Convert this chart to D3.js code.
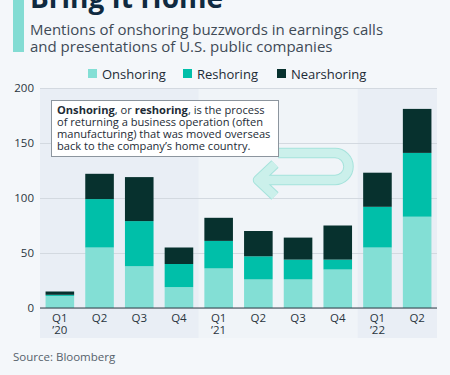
<!DOCTYPE html>
<html>
<head>
<meta charset="utf-8">
<script src="https://cdn.jsdelivr.net/npm/d3@7"></script>
<style>
  body { margin: 0; background: #f4f7fa; }
  svg { display: block; font-family: "Open Sans", sans-serif; }
</style>
</head>
<body>
<div id="chart"></div>
<script>
var width = 450, height = 375;
var padding = { t: 88, r: 13, b: 67, l: 40 };

// data
var quarters = ["Q1 '20", "Q2 '20", "Q3 '20", "Q4 '20", "Q1 '21", "Q2 '21", "Q3 '21", "Q4 '21", "Q1 '22", "Q2 '22"];
var tickLines = [["Q1", "\u201920"], ["Q2"], ["Q3"], ["Q4"], ["Q1", "\u201921"], ["Q2"], ["Q3"], ["Q4"], ["Q1", "\u201922"], ["Q2"]];
var onshoring = [11, 55, 38, 19, 36, 26, 26, 35, 55, 83];
var reshoring = [1, 44, 41, 21, 25, 21, 18, 9, 37, 58];
var nearshoring = [3, 23, 40, 15, 21, 23, 20, 31, 31, 40];
var seriesNames = ["Onshoring", "Reshoring", "Nearshoring"];
var colors = ["#83dfd5", "#00bfa9", "#07312e"];
var years = [{ from: 0, to: 3, fill: "#e9eef5" }, { from: 4, to: 7, fill: "#f0f4f8" }, { from: 8, to: 9, fill: "#e9eef5" }];
var yTicks = [0, 50, 100, 150, 200];

var svg = d3.select("#chart").append("svg")
    .attr("width", width)
    .attr("height", height);

svg.append("rect").attr("width", width).attr("height", height).attr("fill", "#f4f7fa");

//Header
svg.append("rect").attr("x", 13).attr("y", 0).attr("width", 11).attr("height", 52).attr("fill", "#83dcd3");
svg.append("text").attr("x", 30).attr("y", 8)
    .style("font-size", "28px").style("font-weight", "bold").attr("fill", "#0f2a40")
    .text("Bring It Home");
svg.append("text").attr("x", 30).attr("y", 35)
    .style("font-size", "15px").attr("fill", "#3e4a56")
    .text("Mentions of onshoring buzzwords in earnings calls");
svg.append("text").attr("x", 30).attr("y", 52)
    .style("font-size", "15px").attr("fill", "#3e4a56")
    .text("and presentations of U.S. public companies");

//Legend
var legendX = [88, 183, 277];
seriesNames.forEach(function (name, i) {
    svg.append("rect").attr("x", legendX[i]).attr("y", 69).attr("width", 9).attr("height", 9).attr("fill", colors[i]);
    svg.append("text").attr("x", legendX[i] + 14).attr("y", 79)
        .style("font-size", "13px").attr("fill", "#1d2b36").text(name);
});

var chartWidth = width - padding.l - padding.r;
var chartHeight = height - padding.t - padding.b;

var x = d3.scaleBand().domain(quarters).range([padding.l, padding.l + chartWidth])
    .paddingInner(0.28).paddingOuter(0.14);
var y = d3.scaleLinear().domain([0, 200]).range([padding.t + chartHeight, padding.t]);

//Year bands
years.forEach(function (yr) {
    var x0 = x(quarters[yr.from]) - x.step() * x.paddingInner() / 2;
    var x1 = x(quarters[yr.to]) + x.bandwidth() + x.step() * x.paddingInner() / 2;
    x0 = Math.max(x0, padding.l); x1 = Math.min(x1, padding.l + chartWidth);
    svg.append("rect").attr("x", x0).attr("y", y(200)).attr("width", x1 - x0)
        .attr("height", y(0) - y(200) + 30).attr("fill", yr.fill);
});

//Grid + y axis
var yAxis = svg.append("g").attr("transform", "translate(" + padding.l + ",0)")
    .call(d3.axisLeft(y).tickValues(yTicks).tickSize(-chartWidth).tickPadding(6));
yAxis.select(".domain").remove();
yAxis.selectAll("line").attr("stroke", "#d3d9e0");
yAxis.selectAll("text").style("font-size", "11.5px").attr("fill", "#2a3540").style("font-family", "Open Sans");

//Stacked bars
var rows = quarters.map(function (q, i) {
    return { q: q, Onshoring: onshoring[i], Reshoring: reshoring[i], Nearshoring: nearshoring[i] };
});
var stack = d3.stack().keys(seriesNames)(rows);
svg.append("g").selectAll("g").data(stack).enter().append("g")
    .attr("fill", function (d, i) { return colors[i]; })
    .selectAll("rect").data(function (d) { return d; }).enter().append("rect")
    .attr("x", function (d) { return x(d.data.q); })
    .attr("width", x.bandwidth())
    .attr("y", function (d) { return y(d[1]); })
    .attr("height", function (d) { return y(d[0]) - y(d[1]); });

//x axis
svg.append("line").attr("x1", padding.l).attr("x2", padding.l + chartWidth)
    .attr("y1", y(0)).attr("y2", y(0)).attr("stroke", "#33404a").attr("stroke-width", 1.2);
quarters.forEach(function (q, i) {
    tickLines[i].forEach(function (t, j) {
        svg.append("text").attr("x", x(q) + x.bandwidth() / 2).attr("y", y(0) + 14 + j * 11.5)
            .attr("text-anchor", "middle").style("font-size", "11.5px").attr("fill", "#2a3540").text(t);
    });
});

//Arrow (U-turn)
var arrow = "M278,153 L335,153 A13.5,13.5 0 0 1 335,180 L262,180 M275,164 L258,180 L275,196";
svg.append("path").attr("d", arrow).attr("fill", "none").attr("stroke", "#a6e3dc")
    .attr("stroke-width", 10.5).attr("stroke-linejoin", "round");
svg.append("path").attr("d", arrow).attr("fill", "none").attr("stroke", "#cbf0eb")
    .attr("stroke-width", 8.5).attr("stroke-linejoin", "round");

//Annotation box
svg.append("rect").attr("x", 51.5).attr("y", 100.5).attr("width", 227).attr("height", 56)
    .attr("fill", "#ffffff").attr("stroke", "#8c959e");
var note = svg.append("text").style("font-size", "11.1px").attr("fill", "#1d2b36");
var l1 = note.append("tspan").attr("x", 57).attr("y", 114);
l1.append("tspan").style("font-weight", "bold").text("Onshoring");
l1.append("tspan").text(", or ");
l1.append("tspan").style("font-weight", "bold").text("reshoring");
l1.append("tspan").text(", is the process");
note.append("tspan").attr("x", 57).attr("y", 126).text("of returning a business operation (often");
note.append("tspan").attr("x", 57).attr("y", 138).text("manufacturing) that was moved overseas");
note.append("tspan").attr("x", 57).attr("y", 150).text("back to the company\u2019s home country.");

//Source
svg.append("text").attr("x", 13).attr("y", 361).style("font-size", "11.5px").attr("fill", "#56626c")
    .text("Source: Bloomberg");
</script>
</body>
</html>
